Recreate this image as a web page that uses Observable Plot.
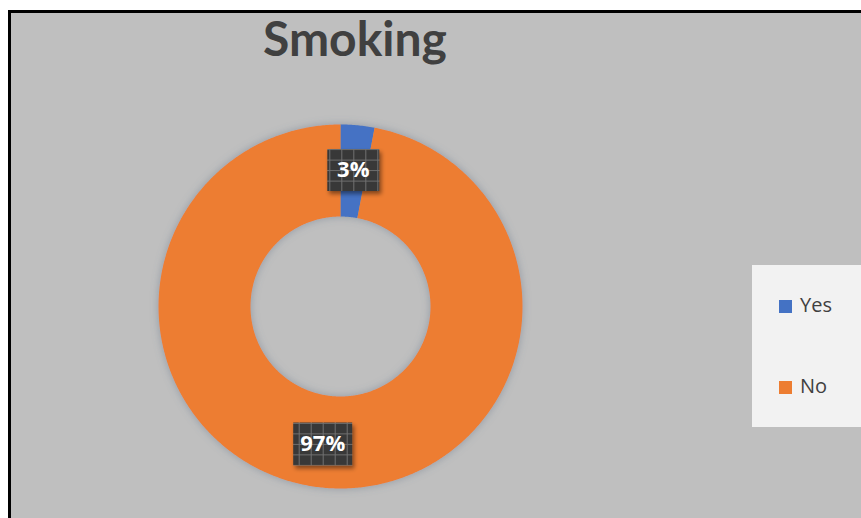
<!DOCTYPE html>
<html><head><meta charset="utf-8">
<script src="https://cdn.jsdelivr.net/npm/d3@7"></script>
<script src="https://cdn.jsdelivr.net/npm/@observablehq/plot@0.6"></script>
<style>
html,body{margin:0;padding:0;background:#fff;}
#wrap{position:relative;width:861px;height:518px;overflow:hidden;background:#fff;}
#panel{position:absolute;left:8px;top:10px;width:853px;height:508px;background:#bfbfbf;border-left:3px solid #000;border-top:3px solid #000;box-sizing:border-box;}
#chart{position:absolute;left:0;top:0;}
#title{position:absolute;left:0;width:710px;top:14px;text-align:center;font:700 48px/48px Lato,"Open Sans",sans-serif;color:#404040;}
#legend{position:absolute;left:752px;top:265px;width:109px;height:162px;background:#f2f2f2;}
.item{position:absolute;left:27px;font:400 20px/20px "Open Sans",sans-serif;color:#404040;}
.sw{display:inline-block;width:13px;height:13px;margin-right:8px;vertical-align:-1px;}
</style></head>
<body>
<div id="wrap">
  <div id="panel"></div>
  <div id="chart"></div>
  <div id="title">Smoking</div>
  <div id="legend"></div>
</div>
<script>
const categories = ["Yes", "No"];
const values = [3, 97];
const valueLabels = ["3%", "97%"];
const colors = ["#4472c4", "#ed7d31"];

const outerLat = 0, innerLat = 45.5;           // ring in polar azimuthal-equidistant space
const toLon = deg => 180 - deg;                 // clockwise angle from top -> longitude

const arcs = d3.pie().sort(null).value(d => d)(values);

function ringSector(a0, a1) {
  const d0 = a0 * 180 / Math.PI, d1 = a1 * 180 / Math.PI;
  const n = Math.max(2, Math.ceil((d1 - d0) / 0.5));
  const outer = [], inner = [];
  for (let i = 0; i <= n; i++) {
    const t = d0 + (d1 - d0) * i / n;
    outer.push([toLon(t), outerLat]);
    inner.push([toLon(t), innerLat]);
  }
  const ring = outer.concat(inner.reverse());
  ring.push(ring[0]);
  return ring;
}

const slices = arcs.map((a, i) => ({
  type: "Feature",
  properties: {label: categories[i]},
  geometry: {type: "Polygon", coordinates: [ringSector(a.startAngle, a.endAngle)]}
}));

const labelData = arcs.map((a, i) => ({
  i,
  text: valueLabels[i],
  lon: toLon((a.startAngle + a.endAngle) / 2 * 180 / Math.PI),
  lat: (outerLat + innerLat) / 2
}));

const boxSymbol = (w, h) => ({
  draw(ctx) {
    ctx.moveTo(-w / 2, -h / 2); ctx.lineTo(w / 2, -h / 2);
    ctx.lineTo(w / 2, h / 2); ctx.lineTo(-w / 2, h / 2); ctx.closePath();
  }
});

const textStyle = {x: "lon", y: "lat", text: "text", fill: "white", fontSize: 22, fontWeight: "bold", fontFamily: "Open Sans"};

const svg = Plot.plot({
  width: 861, height: 518,
  marginLeft: 158, marginTop: 124, marginRight: 339, marginBottom: 30,
  style: {background: "transparent", overflow: "visible"},
  projection: {
    type: "azimuthal-equidistant",
    rotate: [0, -90],
    domain: d3.geoCircle().center([0, 90]).radius(90 - outerLat)()
  },
  color: {domain: categories, range: colors},
  marks: [
    Plot.geo(slices, {fill: d => d.properties.label, stroke: "none"}),
    Plot.dot(labelData.filter(d => d.i === 0), {x: "lon", y: "lat", symbol: boxSymbol(52, 42), fill: "url(#lblgrid)", stroke: "none", dy: -1}),
    Plot.dot(labelData.filter(d => d.i === 1), {x: "lon", y: "lat", symbol: boxSymbol(59, 43), fill: "url(#lblgrid)", stroke: "none", dx: -5, dy: 2}),
    Plot.text(labelData.filter(d => d.i === 0), {...textStyle, dy: -1}),
    Plot.text(labelData.filter(d => d.i === 1), {...textStyle, dx: -5, dy: 2})
  ]
});

const defs = document.createElementNS("http://www.w3.org/2000/svg", "defs");
defs.innerHTML = `
<pattern id="lblgrid" patternUnits="userSpaceOnUse" width="12" height="10.5">
  <rect width="12" height="10.5" fill="#383838"/>
  <path d="M0.5 0V10.5M0 0.5H12" stroke="#707070" stroke-width="1"/>
</pattern>
<filter id="boxshadow" x="-30%" y="-30%" width="160%" height="160%">
  <feDropShadow dx="2" dy="3" stdDeviation="2" flood-color="#000" flood-opacity="0.45"/>
</filter>
<filter id="ringshadow" x="-10%" y="-10%" width="120%" height="120%">
  <feDropShadow dx="0" dy="0" stdDeviation="4" flood-color="#5a6a80" flood-opacity="0.45"/>
</filter>`;
svg.insertBefore(defs, svg.firstChild);
svg.querySelectorAll('g[aria-label="geo"]').forEach(g => g.setAttribute("filter", "url(#ringshadow)"));
svg.querySelectorAll('g[aria-label="dot"]').forEach(g => g.setAttribute("filter", "url(#boxshadow)"));
document.getElementById("chart").appendChild(svg);

const legend = document.getElementById("legend");
const legendTops = [295, 376];
categories.forEach((c, i) => {
  const el = document.createElement("div");
  el.className = "item";
  el.style.top = (legendTops[i] - 265) + "px";
  el.innerHTML = `<span class="sw" style="background:${colors[i]}"></span>${c}`;
  legend.appendChild(el);
});
</script>
</body></html>
